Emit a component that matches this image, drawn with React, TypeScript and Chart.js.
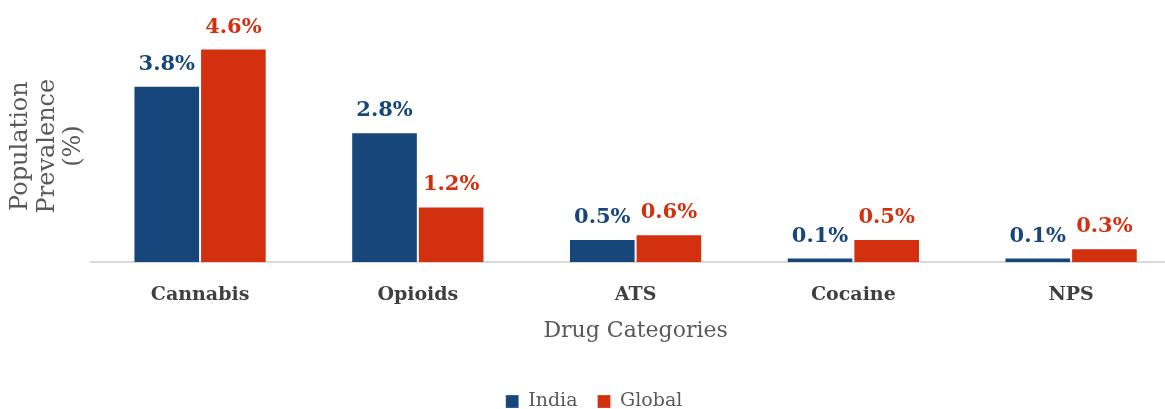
import React, { useEffect, useRef } from "react";
import { Chart, registerables } from "chart.js";

Chart.register(...registerables);

const categories = ["Cannabis", "Opioids", "ATS", "Cocaine", "NPS"];
const indiaValues = [3.8, 2.8, 0.5, 0.1, 0.1];
const globalValues = [4.6, 1.2, 0.6, 0.5, 0.3];
const seriesNames = ["India", "Global"];
const seriesColors = ["#17467A", "#D2300F"];
const xTitle = "Drug Categories";
const yTitle = ["Population", "Prevalence", "(%)"];

const FONT = "'DejaVu Serif', serif";

const labelPlugin = {
  id: "barLabels",
  afterDatasetsDraw(chart: any) {
    const ctx = chart.ctx;
    ctx.save();
    ctx.font = `bold 21px ${FONT}`;
    ctx.textAlign = "center";
    ctx.textBaseline = "alphabetic";
    chart.data.datasets.forEach((ds: any, i: number) => {
      const meta = chart.getDatasetMeta(i);
      ctx.fillStyle = seriesColors[i];
      meta.data.forEach((el: any, j: number) => {
        const v = ds.data[j];
        ctx.fillText(v.toFixed(1) + "%", el.x, el.y - 16);
      });
    });
    ctx.restore();
  },
};

export default function App() {
  const ref = useRef<HTMLCanvasElement>(null);
  useEffect(() => {
    if (!ref.current) return;
    const chart = new Chart(ref.current, {
      type: "bar",
      data: {
        labels: categories,
        datasets: [
          {
            label: seriesNames[0],
            data: indiaValues,
            backgroundColor: seriesColors[0],
            borderColor: "rgba(255,255,255,0.25)",
            borderWidth: 1,
            categoryPercentage: 0.612,
            barPercentage: 1,
          },
          {
            label: seriesNames[1],
            data: globalValues,
            backgroundColor: seriesColors[1],
            borderColor: "rgba(255,255,255,0.25)",
            borderWidth: 1,
            categoryPercentage: 0.612,
            barPercentage: 1,
          },
        ],
      },
      options: {
        animation: false,
        responsive: true,
        maintainAspectRatio: false,
        layout: { padding: { top: 30, left: 8, right: 20, bottom: 0 } },
        plugins: {
          tooltip: { enabled: false },
          legend: {
            position: "bottom",
            align: "center",
            labels: {
              boxWidth: 13,
              boxHeight: 13,
              padding: 20,
              color: "#595959",
              font: { family: FONT, size: 19 },
            },
          },
        },
        scales: {
          x: {
            grid: { display: false, drawTicks: false },
            border: { display: true, color: "#D9D9D9", width: 2 },
            ticks: {
              color: "#404040",
              padding: 21,
              font: { family: FONT, size: 19, weight: "bold" },
            },
            title: {
              display: true,
              text: xTitle,
              color: "#595959",
              font: { family: FONT, size: 22, lineHeight: 1 },
              padding: { top: -7, bottom: 30 },
            },
          },
          y: {
            min: 0,
            max: 5,
            grid: { display: false, drawTicks: false },
            border: { display: false },
            ticks: { display: false },
            title: {
              display: true,
              text: yTitle,
              color: "#595959",
              font: { family: FONT, size: 24, lineHeight: 1.1 },
              padding: { top: 0, bottom: 4 },
            },
          },
        },
      },
      plugins: [labelPlugin],
    });
    return () => chart.destroy();
  }, []);
  return (
    <div
      style={{
        position: "fixed",
        left: 0,
        top: 0,
        width: 1165,
        height: 409,
        overflow: "hidden",
        background: "#fff",
      }}
    >
      <div style={{ position: "relative", width: 1200, height: 421 }}>
        <canvas ref={ref} />
      </div>
    </div>
  );
}
